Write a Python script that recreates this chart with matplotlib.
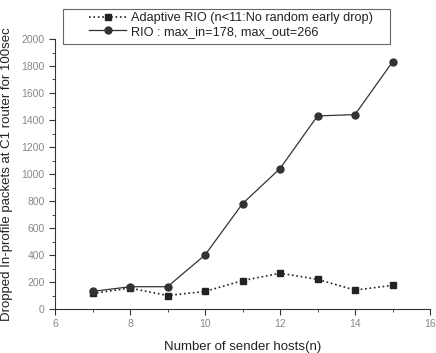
import numpy as np
import matplotlib
matplotlib.use('Agg')
import matplotlib.pyplot as plt
from matplotlib.ticker import MultipleLocator
from matplotlib.patches import Rectangle

plt.rcParams['font.family'] = ['Liberation Sans', 'DejaVu Sans']

hosts = [7, 8, 9, 10, 11, 12, 13, 14, 15]
adaptive_rio = [115, 155, 100, 130, 210, 265, 220, 140, 175]
rio = [130, 165, 165, 400, 780, 1040, 1430, 1440, 1830]

W, H = 436, 353
fig = plt.figure(figsize=(W/100, H/100), dpi=100)
ax = fig.add_axes([55/W, 1 - 309/H, 375/W, 270/H])

ax.plot(hosts, adaptive_rio, ':', color='#222222', marker='s', markersize=4.5,
        linewidth=1.2, label='Adaptive RIO (n<11:No random early drop)')
ax.plot(hosts, rio, '-', color='#333333', marker='o', markersize=5,
        linewidth=0.9, label='RIO : max_in=178, max_out=266')

ax.set_xlim(6, 16)
ax.set_ylim(0, 2000)
ax.xaxis.set_major_locator(MultipleLocator(2))
ax.xaxis.set_minor_locator(MultipleLocator(1))
ax.yaxis.set_major_locator(MultipleLocator(200))
ax.yaxis.set_minor_locator(MultipleLocator(100))
ax.spines['top'].set_visible(False)
ax.spines['right'].set_visible(False)
for s in ['left', 'bottom']:
    ax.spines[s].set_color('#333333')
ax.tick_params(which='major', length=4, labelsize=7.5, colors='#333333',
               labelcolor='#888888')
ax.tick_params(which='minor', length=2.5, colors='#333333')

ax.set_xlabel('Number of sender hosts(n)', fontsize=9.5, color='#222222', labelpad=8)
ax.set_ylabel('Dropped In-profile packets at C1 router for 100sec', fontsize=9.5,
              color='#222222', labelpad=6)

# legend box drawn separately so it can be wider than its contents
fig.patches.append(Rectangle((63/W, 1 - 44/H), 327/W, 35/H, transform=fig.transFigure,
                             fill=False, edgecolor='#666666', linewidth=0.8))
leg = fig.legend(loc='upper left', bbox_to_anchor=(89/W, 1 - 12/H), fontsize=9.2,
                 frameon=False, handlelength=2.9, borderpad=0, labelspacing=0.15,
                 handletextpad=0.35, borderaxespad=0)
for t in leg.get_texts():
    t.set_color('#222222')

fig.savefig('out.png', dpi=100)
